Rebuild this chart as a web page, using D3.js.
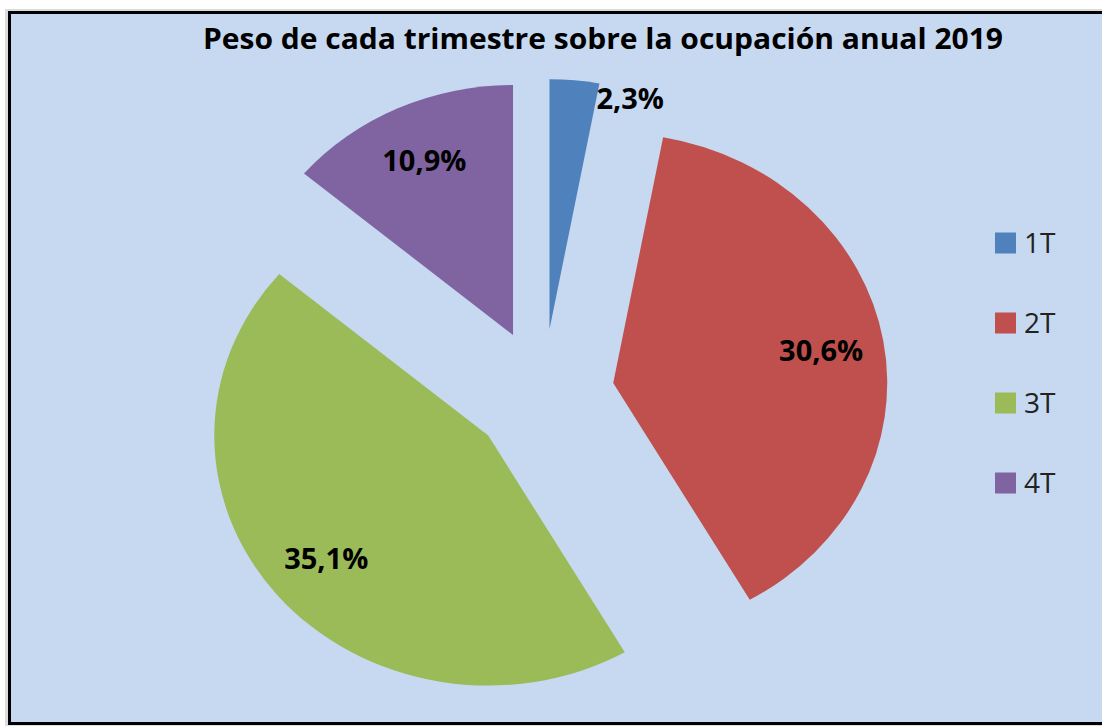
<!DOCTYPE html>
<html>
<head>
  <meta charset="utf-8">
  <title>pie-chart</title>
  <style>
    body { margin: 0; background: #fff; }
    text { font-family: "Open Sans", "DejaVu Sans", sans-serif; }
  </style>
  <script src="https://cdn.jsdelivr.net/npm/d3@7"></script>
</head>
<body>
<script type="text/javascript">

  // daten
  var categories = ["1T", "2T", "3T", "4T"];
  var values = [2.3, 30.6, 35.1, 10.9];
  var labels = ["2,3%", "30,6%", "35,1%", "10,9%"];
  var title = "Peso de cada trimestre sobre la ocupación anual 2019";

  var colors = ["#4f81bd", "#c0504d", "#9bbb59", "#8064a2"];

  var width = 1102, height = 726;
  var cx = 543, cy = 394;   // mitte vom kreis
  var r = 250;              // radius
  var sx = 1.096;           // bild ist leicht in die breite gezogen
  var explode = 65;         // abstand der stuecke

  var svg = d3.select("body").append("svg")
    .attr("width", width)
    .attr("height", height);

  // hintergrund + rahmen
  svg.append("rect")
    .attr("x", 5).attr("y", 9)
    .attr("width", width + 20).attr("height", 718)
    .attr("fill", "#9a9a9a").attr("opacity", 0.35);
  svg.append("rect")
    .attr("x", 9.5).attr("y", 12.5)
    .attr("width", width + 20).attr("height", 711)
    .attr("fill", "#c6d9f1")
    .attr("stroke", "#000")
    .attr("stroke-width", 3);

  svg.append("text")
    .attr("x", 603).attr("y", 39)
    .attr("dy", "0.35em")
    .attr("text-anchor", "middle")
    .attr("font-size", 28)
    .attr("font-weight", "bold")
    .attr("textLength", 800)
    .attr("lengthAdjust", "spacingAndGlyphs")
    .attr("fill", "#000")
    .text(title);

  var pie = d3.pie().sort(null).value(function(d) { return d; });
  var arcs = pie(values);

  var arc = d3.arc().innerRadius(0).outerRadius(r);

  var g = svg.append("g")
    .attr("transform", "translate(" + cx + "," + cy + ") scale(" + sx + ",1)");

  function mid(d) { return (d.startAngle + d.endAngle) / 2; }
  function offset(d) {
    var a = mid(d);
    return [explode * Math.sin(a), -explode * Math.cos(a)];
  }

  g.selectAll(".slice")
    .data(arcs)
    .enter()
    .append("path")
      .attr("class", "slice")
      .attr("transform", function(d) { var o = offset(d); return "translate(" + o[0] + "," + o[1] + ")"; })
      .attr("d", arc)
      .attr("fill", function(d, i) { return colors[i]; });

  // beschriftung der stuecke
  svg.selectAll(".label")
    .data(arcs)
    .enter()
    .append("text")
      .attr("class", "label")
      .each(function(d, i) {
        var o = offset(d);
        var small = (d.endAngle - d.startAngle) < 0.3;
        var a = small ? d.endAngle : mid(d);
        var rr = small ? r * 0.94 : r * 0.77;
        var px = cx + sx * (o[0] + rr * Math.sin(a));
        var py = cy + o[1] - rr * Math.cos(a);
        d3.select(this)
          .attr("x", px).attr("y", py)
          .attr("dy", "0.36em")
          .attr("text-anchor", small ? "start" : "middle")
          .text(labels[i]);
      })
      .attr("font-size", 29)
      .attr("font-weight", "bold")
      .attr("fill", "#000");

  // legende
  var legendY = d3.scalePoint()
    .domain(categories)
    .range([243, 483]);

  var legend = svg.selectAll(".legend")
    .data(categories)
    .enter()
    .append("g")
      .attr("class", "legend")
      .attr("transform", function(d) { return "translate(995," + legendY(d) + ")"; });

  legend.append("rect")
    .attr("x", 0).attr("y", -10.5)
    .attr("width", 21).attr("height", 21)
    .attr("fill", function(d, i) { return colors[i]; });

  legend.append("text")
    .attr("x", 29).attr("y", 0)
    .attr("dy", "0.36em")
    .attr("font-size", 28)
    .attr("fill", "#222")
    .text(function(d) { return d; });

</script>
</body>
</html>
